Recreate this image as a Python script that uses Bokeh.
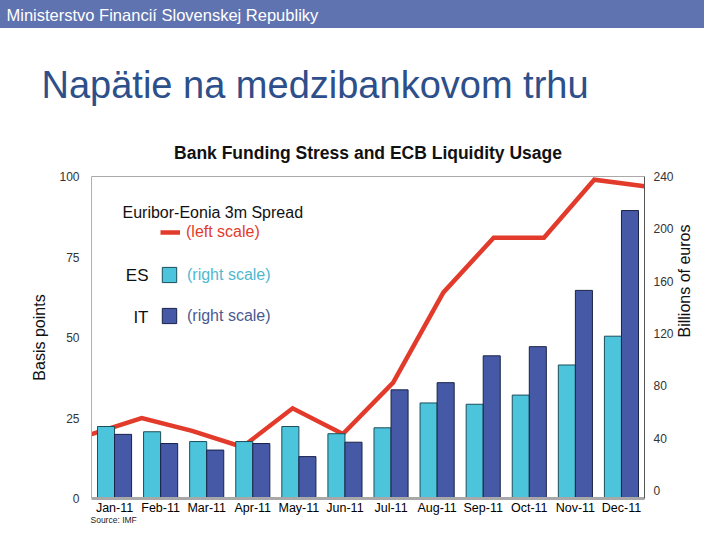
import math
from bokeh.plotting import figure
from bokeh.models import (Range1d, LinearAxis, FixedTicker, Legend, LegendItem,
                          Label, Title, ColumnDataSource, Span)
from bokeh.transform import dodge
from bokeh.layouts import column
from bokeh.embed import file_html
from bokeh.resources import INLINE

# ---- data ----
months = ["Jan-11", "Feb-11", "Mar-11", "Apr-11", "May-11", "Jun-11",
          "Jul-11", "Aug-11", "Sep-11", "Oct-11", "Nov-11", "Dec-11"]
spread_bp = [20, 25, 21, 16, 28, 20, 36, 64, 81, 81, 99, 97]          # left scale
es_bn = [49, 45, 37.5, 37.5, 49, 43.5, 48, 67, 66, 73, 96, 118]       # right scale
it_bn = [43, 36, 31, 36, 26, 37, 77, 82.5, 103, 110, 153, 214]        # right scale
left_ticks = [0, 25, 50, 75, 100]
right_ticks = [0, 40, 80, 120, 160, 200, 240]

FONT = "Liberation Sans"
RED = "#e23b2b"
CYAN = "#4cc4db"
NAVY = "#4659a6"
HDR_BLUE = "#5f73b0"
W = 704
HDR_H = 28
n = len(months)
slot = [i + 0.5 for i in range(n)]          # category centres on a 0..n axis
idx = list(range(n))                        # line points, spread edge to edge

# ---- header bar ----
hdr = figure(width=W, height=HDR_H, x_range=Range1d(0, 1), y_range=Range1d(0, 1),
             x_axis_type=None, y_axis_type=None, output_backend="svg",
             toolbar_location=None, min_border=0,
             background_fill_color=HDR_BLUE, border_fill_color=HDR_BLUE,
             outline_line_color=None, styles={"background-color": HDR_BLUE})
hdr.grid.visible = False
hdr.title = Title(text="Ministerstvo Financií Slovenskej Republiky", align="left",
                  offset=-85, text_color="white", text_font=FONT,
                  text_font_size="16.5px", text_font_style="normal", standoff=6)

# ---- main chart ----
right_start = -6
p = figure(width=W, height=524 - HDR_H, x_range=Range1d(0, n),
           y_range=Range1d(left_ticks[0], left_ticks[-1]),
           output_backend="svg", toolbar_location=None,
           min_border_left=91, min_border_right=58, min_border_top=148,
           min_border_bottom=26, outline_line_color=None,
           background_fill_color="white", border_fill_color="white")
p.extra_y_ranges = {"right": Range1d(right_start, right_ticks[-1])}
p.extra_x_ranges = {"line": Range1d(0, n - 1)}
p.grid.visible = False

line_r = p.line(x=idx, y=spread_bp, x_range_name="line",
                line_color=RED, line_width=4.5, line_join="miter")

src = ColumnDataSource(dict(slot=slot, es=es_bn, it=it_bn))
es_r = p.vbar(x=dodge("slot", -0.185), top="es", bottom=right_start,
              width=0.37, source=src, y_range_name="right",
              fill_color=CYAN, line_color="#1d4e5a", line_width=1)
it_r = p.vbar(x=dodge("slot", 0.185), top="it", bottom=right_start,
              width=0.37, source=src, y_range_name="right",
              fill_color=NAVY, line_color="#1a2347", line_width=1)

# top frame edge
p.add_layout(Span(location=left_ticks[-1], dimension="width", line_color="#555555", line_width=1))

# left axis
ya = p.yaxis[0]
ya.ticker = FixedTicker(ticks=left_ticks)
ya.axis_label = "Basis points"
ya.axis_label_text_font = FONT
ya.axis_label_text_font_size = "16px"
ya.axis_label_text_font_style = "normal"
ya.axis_label_text_color = "#111111"
ya.axis_label_standoff = 8
ya.major_label_text_font = FONT
ya.major_label_text_font_size = "12px"
ya.major_label_text_color = "#333333"
ya.major_label_standoff = 12
ya.major_tick_line_color = None
ya.minor_tick_line_color = None
ya.major_tick_out = 0
ya.major_tick_in = 0
ya.axis_line_color = "#b0b0b0"

# right axis
ra = LinearAxis(y_range_name="right", ticker=FixedTicker(ticks=right_ticks),
                axis_label="Billions of euros")
ra.axis_label_text_font = FONT
ra.axis_label_text_font_size = "16px"
ra.axis_label_text_font_style = "normal"
ra.axis_label_text_color = "#111111"
ra.axis_label_standoff = 8
ra.major_label_text_font = FONT
ra.major_label_text_font_size = "12px"
ra.major_label_text_color = "#333333"
ra.major_label_standoff = 9
ra.major_tick_line_color = None
ra.minor_tick_line_color = None
ra.major_tick_out = 0
ra.major_tick_in = 0
ra.axis_line_color = "#555555"
if "axis_label_orientation" in LinearAxis.properties():
    ra.axis_label_orientation = math.pi / 2
p.add_layout(ra, "right")

# x axis
xa = p.xaxis[0]
xa.ticker = FixedTicker(ticks=slot)
xa.major_label_overrides = {s: m for s, m in zip(slot, months)}
xa.major_label_text_font = FONT
xa.major_label_text_font_size = "12.5px"
xa.major_label_text_color = "#000000"
xa.major_label_standoff = 2
xa.major_tick_line_color = None
xa.minor_tick_line_color = None
xa.major_tick_out = 0
xa.major_tick_in = 0
xa.axis_line_color = "#a8a8a8"
xa.axis_line_width = 3

# titles
p.add_layout(Title(text="Bank Funding Stress and ECB Liquidity Usage", align="center",
                   text_font=FONT, text_font_size="17.5px", text_font_style="bold",
                   text_color="#111111", standoff=28), "above")
p.add_layout(Title(text="Napätie na medzibankovom trhu", align="left", offset=-50,
                   text_font=FONT, text_font_size="38px", text_font_style="normal",
                   text_color="#2d4f8a", standoff=42), "above")

src_title = Title(text="Source: IMF", align="left", offset=-1, vertical_align="top",
                  text_font=FONT, text_font_size="8.5px", text_font_style="normal",
                  text_color="#222222", standoff=0)
try:
    src_title.standoff = -6
except Exception:
    src_title.standoff = 0
p.add_layout(src_title, "below")

# legend
def make_legend(label, rend, color, loc, gw, gh, standoff):
    return Legend(items=[LegendItem(label=label, renderers=[rend])], location=loc,
                  padding=0, margin=0, spacing=0, glyph_width=gw, glyph_height=gh,
                  label_height=gh, label_standoff=standoff,
                  label_text_font=FONT, label_text_font_size="16px",
                  label_text_color=color, border_line_color=None,
                  background_fill_alpha=0)

p.add_layout(make_legend("(left scale)", line_r, RED, (69, 256), 20, 20, 6))
p.add_layout(make_legend("(right scale)", es_r, "#4fb8cf", (69, 214), 18, 19, 9))
p.add_layout(make_legend("(right scale)", it_r, "#4a5a90", (69, 173), 18, 19, 9))

p.add_layout(Label(x=31, y=286, x_units="screen", y_units="screen",
                   text="Euribor-Eonia 3m Spread", text_font=FONT, text_font_size="16px",
                   text_color="#111111", text_baseline="alphabetic"))
p.add_layout(Label(x=57, y=223, x_units="screen", y_units="screen", text="ES",
                   text_font=FONT, text_font_size="17px", text_color="#111111",
                   text_align="right", text_baseline="middle"))
p.add_layout(Label(x=57, y=181, x_units="screen", y_units="screen", text="IT",
                   text_font=FONT, text_font_size="17px", text_color="#111111",
                   text_align="right", text_baseline="middle"))

layout = column(hdr, p, spacing=0)
open("out.html", "w").write(file_html(layout, INLINE))
